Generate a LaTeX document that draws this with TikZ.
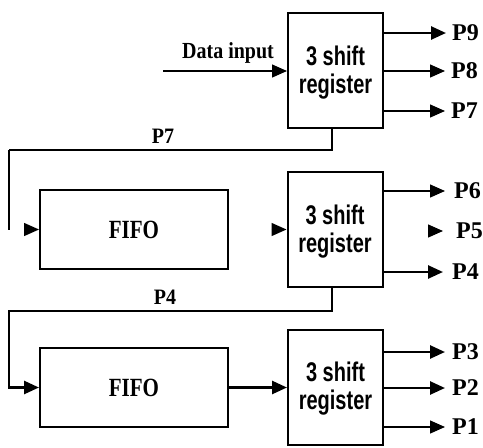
\documentclass[tikz,border=0pt]{standalone}
\usepackage{fontspec}
\setmainfont{Liberation Serif}
\newfontfamily\regfont{Liberation Sans}
\usetikzlibrary{arrows.meta}
\newcommand\vst[2][1.3]{\scalebox{1}[#1]{#2}}
\tikzset{
  boxstyle/.style={draw, line width=2pt, inner sep=0pt},
  regbox/.style={boxstyle, minimum width=95pt, minimum height=115pt},
  fifobox/.style={boxstyle, minimum width=188pt, minimum height=79pt,
    font=\fontsize{21}{23}\selectfont\bfseries},
  thickline/.style={line width=2.6pt},
  thinline/.style={line width=1.3pt},
  tip/.style={-{Triangle[length=15pt,width=13pt]}},
  plabel/.style={anchor=west, inner sep=0pt, font=\fontsize{24}{26}\selectfont\bfseries},
  fblabel/.style={anchor=base, inner sep=0pt, font=\fontsize{20}{22}\selectfont\bfseries},
  regtext/.style={anchor=base, inner sep=0pt, font=\regfont\fontsize{20}{22}\selectfont\bfseries},
}
\begin{document}
\begin{tikzpicture}[x=1pt, y=-1pt]
\useasboundingbox (0,0) rectangle (483,448);
\fill[white] (0,0) rectangle (483,448);

% boxes
\node[regbox] (reg1) at (335.5,70.5) {};
\node[regbox] (reg2) at (335,229.5) {};
\node[regbox] (reg3) at (335.5,387) {};
\node[fifobox] (fifo1) at (134,229.5) {\vst[1.25]{FIFO}};
\node[fifobox] (fifo2) at (134,387.5) {\vst[1.25]{FIFO}};

% register texts
\node[regtext] (r1a) at (335.5,65) {\vst[1.35]{3 shift}};
\node[regtext] (r1b) at (335.5,93) {\vst[1.35]{register}};
\node[regtext] (r2a) at (335,224) {\vst[1.35]{3 shift}};
\node[regtext] (r2b) at (335,252) {\vst[1.35]{register}};
\node[regtext] (r3a) at (335.5,381) {\vst[1.35]{3 shift}};
\node[regtext] (r3b) at (335.5,409) {\vst[1.35]{register}};

% output labels
\node[plabel] (p9) at (452,33) {P9};
\node[plabel] (p8) at (451,71) {P8};
\node[plabel] (p7) at (451,111) {P7};
\node[plabel] (p6) at (454,191) {P6};
\node[plabel] (p5) at (456,231) {P5};
\node[plabel] (p4) at (452,272) {P4};
\node[plabel] (p3) at (452,352) {P3};
\node[plabel] (p2) at (452,388) {P2};
\node[plabel] (p1) at (452,427) {P1};

% data input
\coordinate (din) at (163,71);
\node[anchor=base, inner sep=0pt, font=\fontsize{20}{22}\selectfont\bfseries] (dinlabel) at (228,58) {\vst[1.15]{Data input}};
\draw[thinline, tip] (din) -- (din -| reg1.west);

% outputs of register 1
\draw[thickline, tip] (reg1.east |- p9) -- ([xshift=-6pt]p9.west);
\draw[thinline, tip] (reg1.east |- p8) -- ([xshift=-6pt]p8.west);
\draw[thinline, tip] (reg1.east |- p7) -- ([xshift=-6pt]p7.west);

% feedback P7
\coordinate (fa) at (332,150);
\coordinate (fb) at (9,150);
\coordinate (fc) at (9,230);
\draw[thickline] (fa |- reg1.south) -- (fa) -- (fb);
\draw[thinline] (fb) -- (fc);
\node[fblabel] (lp7) at (163,143) {\vst[1.1]{P7}};

% middle row: arrowheads only
\draw[thinline, tip] ([xshift=-15pt]fifo1.west) -- (fifo1.west);
\draw[thinline, tip] ([xshift=-15pt]reg2.west |- fifo1) -- (reg2.west |- fifo1);

% outputs of register 2
\draw[thinline, tip] (reg2.east |- p6) -- ([xshift=-9pt]p6.west);
\draw[thinline, tip] ([xshift=-28pt]p5.west) -- ([xshift=-13pt]p5.west);
\draw[thickline, tip] (reg2.east |- p4) -- ([xshift=-9pt]p4.west);

% feedback P4
\coordinate (ga) at (332,311);
\coordinate (gb) at (9,311);
\draw[thickline, tip] (ga |- reg2.south) -- (ga) -- (gb) |- (fifo2.west);
\node[fblabel] (lp4) at (165,304) {\vst[1.1]{P4}};

% fifo2 to reg3
\draw[thickline, tip] (fifo2.east) -- (reg3.west |- fifo2);

% outputs of register 3
\draw[thickline, tip] (reg3.east |- p3) -- ([xshift=-7pt]p3.west);
\draw[thickline, tip] (reg3.east |- p2) -- ([xshift=-7pt]p2.west);
\draw[thinline, tip] (reg3.east |- p1) -- ([xshift=-7pt]p1.west);
\end{tikzpicture}
\end{document}
